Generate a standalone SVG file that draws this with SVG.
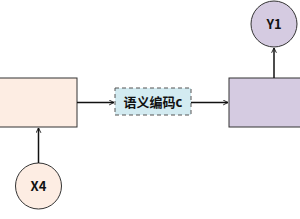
<svg xmlns="http://www.w3.org/2000/svg" width="300" height="219" viewBox="0 0 300 219">
<style>
.peach{fill:#fdede3;stroke:#333;stroke-width:1}
.lav{fill:#d5cbe1;stroke:#333;stroke-width:1}
.lbl{fill:#d3ebf1;stroke:#555;stroke-width:1;stroke-dasharray:4 3}
.t{font-family:"Noto Sans CJK SC","Liberation Sans",sans-serif;font-weight:bold;fill:#111;text-anchor:middle}
.c{stroke:#111;stroke-width:1.5;fill:none;marker-end:url(#a)}
</style>
<defs>
<marker id="a" viewBox="0 0 10 10" refX="9" refY="5" markerWidth="6" markerHeight="6" orient="auto" markerUnits="userSpaceOnUse">
<polyline points="1,1 9,5 1,9" fill="none" stroke="#111" stroke-width="1.5"/>
</marker>
</defs>
<g id="encoder"><rect class="peach" x="-5" y="78" width="82" height="49"/></g>
<g id="decoder"><rect class="lav" x="229" y="78" width="80" height="49"/></g>
<g id="code"><rect class="lbl" x="115" y="88" width="76" height="27"/><text class="t" x="153" y="107" font-size="13">语义编码c</text></g>
<g id="x4"><circle class="peach" cx="38.5" cy="186" r="23"/><text class="t" x="38.5" y="191" font-size="13">X4</text></g>
<g id="y1"><circle class="lav" cx="274" cy="24" r="23"/><text class="t" x="274" y="29" font-size="13">Y1</text></g>
<g id="connectors">
<line class="c" x1="77" y1="102.5" x2="114" y2="102.5"/>
<line class="c" x1="191" y1="102.5" x2="228" y2="102.5"/>
<line class="c" x1="38.5" y1="163" x2="38.5" y2="128"/>
<line class="c" x1="274" y1="78" x2="274" y2="48"/>
</g>
</svg>
